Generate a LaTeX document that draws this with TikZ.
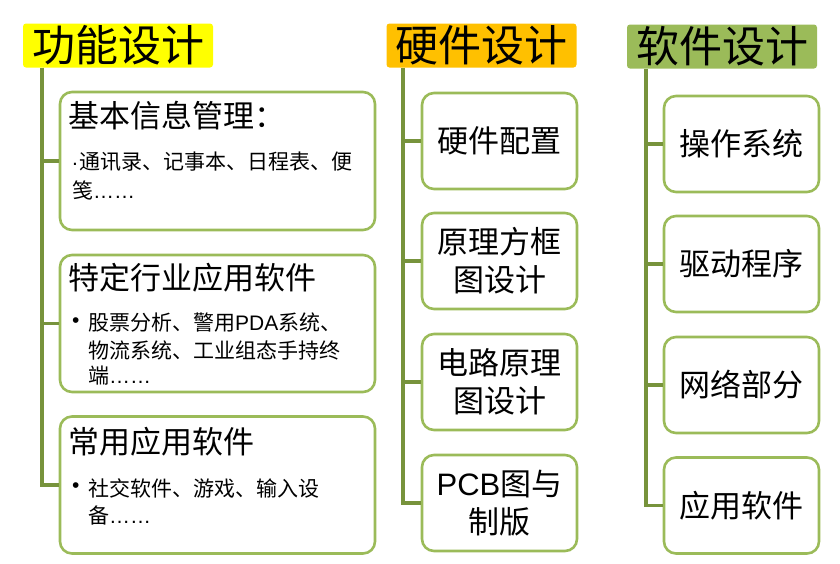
\documentclass[tikz,border=0pt]{standalone}
\usepackage{fontspec}
\setmainfont{Noto Sans CJK SC}
\newfontfamily\lat{Liberation Sans}
\definecolor{hyellow}{HTML}{FFFF00}
\definecolor{horange}{HTML}{FFC000}
\definecolor{hgreen}{HTML}{9BBB59}
\definecolor{boxline}{HTML}{9BBB59}
\definecolor{trunkc}{HTML}{77933C}
\begin{document}
\begin{tikzpicture}[x=1pt,y=-1pt,
  header/.style={rounded corners=3pt, inner sep=0pt, minimum width=190pt, minimum height=44pt, font=\fontsize{43}{46}\selectfont},
  box/.style={draw=boxline, line width=2.6pt, rounded corners=12pt, fill=white, inner sep=0pt, align=center, font=\fontsize{31}{38}\selectfont},
  trunk/.style={draw=trunkc, line width=3.4pt},
  ttl/.style={anchor=west, inner sep=0pt, font=\fontsize{31}{34}\selectfont},
  itm/.style={anchor=west, inner sep=0pt, font=\fontsize{21}{24}\selectfont}
]
\useasboundingbox (0,0) rectangle (840,563);
% headers
\node[header, fill=hyellow] (h1) at (118,45.5) {功能设计};
\node[header, fill=horange] (h2) at (481.5,45.5) {硬件设计};
\node[header, fill=hgreen] (h3) at (722,46.5) {软件设计};
% column 1 boxes
\node[box, minimum width=315pt, minimum height=138pt] (b11) at (217.5,161) {};
\node[box, minimum width=315pt, minimum height=137pt] (b12) at (217.5,323.5) {};
\node[box, minimum width=315pt, minimum height=137pt] (b13) at (217.5,485) {};
% column 2 boxes
\node[box, minimum width=155pt, minimum height=96pt] (b21) at (499.5,141) {硬件配置};
\node[box, minimum width=155pt, minimum height=96pt] (b22) at (499.5,261) {原理方框\\图设计};
\node[box, minimum width=155pt, minimum height=96pt] (b23) at (499.5,382) {电路原理\\图设计};
\node[box, minimum width=155pt, minimum height=96pt] (b24) at (499.5,503) {{\lat PCB}图与\\制版};
% column 3 boxes
\node[box, minimum width=155pt, minimum height=96pt] (b31) at (741.5,144) {操作系统};
\node[box, minimum width=155pt, minimum height=96pt] (b32) at (741.5,264) {驱动程序};
\node[box, minimum width=155pt, minimum height=96pt] (b33) at (741.5,385) {网络部分};
\node[box, minimum width=155pt, minimum height=96pt] (b34) at (741.5,505.5) {应用软件};
% trunks
\coordinate (v1) at (42,0);
\coordinate (v2) at (403,0);
\coordinate (v3) at (646,0);
\draw[trunk] (v1 |- h1.south) |- (b13.west);
\draw[trunk] (v1 |- b11.west) -- (b11.west);
\draw[trunk] (v1 |- b12.west) -- (b12.west);
\draw[trunk] (v2 |- h2.south) |- (b24.west);
\draw[trunk] (v2 |- b21.west) -- (b21.west);
\draw[trunk] (v2 |- b22.west) -- (b22.west);
\draw[trunk] (v2 |- b23.west) -- (b23.west);
\draw[trunk] (v3 |- h3.south) |- (b34.west);
\draw[trunk] (v3 |- b31.west) -- (b31.west);
\draw[trunk] (v3 |- b32.west) -- (b32.west);
\draw[trunk] (v3 |- b33.west) -- (b33.west);
% column 1 texts
\node[ttl] (t11) at (68,116) {基本信息管理：};
\node[itm] (d11) at (72,164) {\lat .};
\node[itm] (i11a) at (79,162) {通讯录、记事本、日程表、便};
\node[itm] (i11b) at (72,190) {笺{\lat ……}};
\node[ttl] (t12) at (68,278) {特定行业应用软件};
\node[itm] (d12) at (72,323) {\lat •};
\node[itm] (i12a) at (88,323) {股票分析、警用{\lat PDA}系统、};
\node[itm] (i12b) at (88,350) {物流系统、工业组态手持终};
\node[itm] (i12c) at (88,376) {端{\lat ……}};
\node[ttl] (t13) at (68,442) {常用应用软件};
\node[itm] (d13) at (72,488) {\lat •};
\node[itm] (i13a) at (88,488) {社交软件、游戏、输入设};
\node[itm] (i13b) at (88,515) {备{\lat ……}};
\end{tikzpicture}
\end{document}
